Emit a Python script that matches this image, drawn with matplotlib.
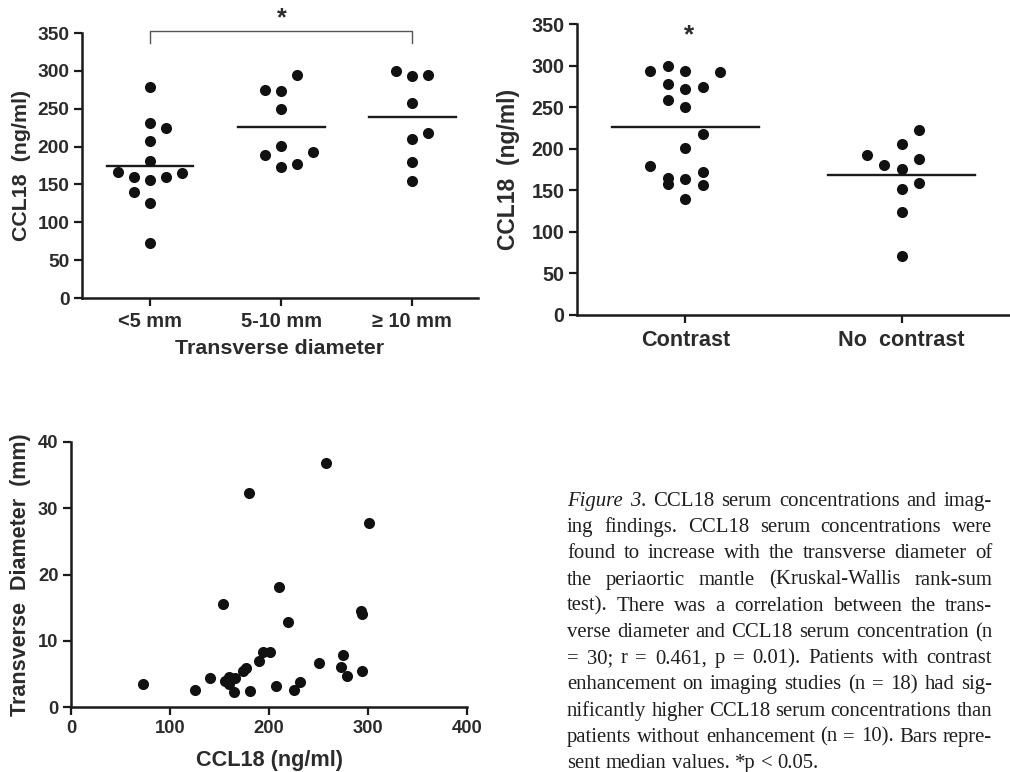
import matplotlib
matplotlib.use("Agg")
import matplotlib.pyplot as plt

# ---------------- data ----------------
# Panel A: CCL18 by transverse diameter group
diam_groups = ["<5 mm", "5-10 mm", "\u2265 10 mm"]
ccl18_lt5 = [279, 231, 225, 207, 181, 166, 160, 156, 160, 165, 140, 125, 73]
slot_lt5 = [0, 0, 1, 0, 0, -2, -1, 0, 1, 2, -1, 0, 0]
ccl18_5to10 = [294, 275, 273, 250, 201, 189, 193, 173, 177]
slot_5to10 = [1, -1, 0, 0, 0, -1, 2, 0, 1]
ccl18_ge10 = [300, 293, 294, 257, 218, 210, 179, 154]
slot_ge10 = [-1, 0, 1, 0, 1, 0, 0, 0]
median_diam = [175, 226, 239]

# Panel B: CCL18 by contrast enhancement
contrast_groups = ["Contrast", "No  contrast"]
ccl18_contrast = [293, 300, 294, 292, 278, 272, 274, 258, 250, 218, 201,
                  179, 165, 158, 164, 172, 156, 139]
slot_contrast = [-2, -1, 0, 2, -1, 0, 1, -1, 0, 1, 0, -2, -1, -1, 0, 1, 1, 0]
ccl18_nocontrast = [223, 206, 192, 188, 180, 176, 159, 152, 124, 71]
slot_nocontrast = [1, 0, -2, 1, -1, 0, 1, 0, 0, 0]
median_contrast = [226, 168]

# Panel C: correlation scatter
scatter_ccl18 = [73, 125, 140, 156, 160, 160, 165, 166, 181, 207, 225, 231, 279,
                 294, 275, 273, 250, 201, 190, 194, 174, 177,
                 301, 293, 294, 258, 219, 210, 180, 154]
scatter_diam = [3.4, 2.6, 4.4, 4.0, 3.5, 4.6, 2.2, 4.4, 2.4, 3.2, 2.6, 3.7, 4.7,
                5.5, 7.9, 6.1, 6.6, 8.3, 7.0, 8.3, 5.5, 5.9,
                27.8, 14.5, 14.0, 36.9, 12.8, 18.1, 32.3, 15.6]

caption_lines = [
    "Figure 3. CCL18 serum concentrations and imag-",
    "ing findings. CCL18 serum concentrations were",
    "found to increase with the transverse diameter of",
    "the periaortic mantle (Kruskal-Wallis rank-sum",
    "test). There was a correlation between the trans-",
    "verse diameter and CCL18 serum concentration (n",
    "= 30; r = 0.461, p = 0.01). Patients with contrast",
    "enhancement on imaging studies (n = 18) had sig-",
    "nificantly higher CCL18 serum concentrations than",
    "patients without enhancement (n = 10). Bars repre-",
    "sent median values. *p < 0.05.",
]

# ---------------- style ----------------
W, H = 1010, 772
TXT = "#2b2b2b"
DOT = "#111111"
SANS = ["Liberation Sans", "DejaVu Sans"]
SERIF = ["Liberation Serif", "DejaVu Serif"]

fig = plt.figure(figsize=(W / 100, H / 100), dpi=100)
fig.patch.set_facecolor("white")


def px_axes(l, t, r, b):
    return fig.add_axes([l / W, 1 - b / H, (r - l) / W, (b - t) / H])


def style_axes(ax, tick_fs):
    for s in ("top", "right"):
        ax.spines[s].set_visible(False)
    for s in ("left", "bottom"):
        ax.spines[s].set_linewidth(1.8)
        ax.spines[s].set_color("#1a1a1a")
    ax.tick_params(axis="both", direction="out", length=6, width=1.6,
                   color="#1a1a1a", labelcolor=TXT, labelsize=tick_fs)
    for lab in ax.get_xticklabels() + ax.get_yticklabels():
        lab.set_fontweight("bold")
        lab.set_family(SANS)


def dot_plot(ax, groups, slots, medians, step, half):
    for i, (vals, sl) in enumerate(zip(groups, slots)):
        xs = [i + s * step for s in sl]
        ax.scatter(xs, vals, s=64, color=DOT, zorder=3, linewidths=0)
        ax.plot([i - half, i + half], [medians[i], medians[i]],
                color="#1a1a1a", lw=1.7, zorder=2)


# ---- Panel A ----
axA = px_axes(82, 33, 478, 298)
dot_plot(axA, [ccl18_lt5, ccl18_5to10, ccl18_ge10],
         [slot_lt5, slot_5to10, slot_ge10], median_diam, 0.122, 0.33)
axA.set_xlim(-0.52, 2.5)
axA.set_ylim(0, 350)
axA.set_yticks(range(0, 351, 50))
axA.set_xticks(range(len(diam_groups)))
axA.set_xticklabels(diam_groups)
style_axes(axA, 13.8)
for lab in axA.get_xticklabels():
    lab.set_fontsize(14.4)
axA.tick_params(axis="x", pad=4)
axA.tick_params(axis="y", pad=3)
axA.set_ylabel("CCL18  (ng/ml)", fontsize=15.4, fontweight="bold",
               color=TXT, family=SANS, labelpad=5)
axA.set_xlabel("Transverse diameter", fontsize=15.4, fontweight="bold",
               color=TXT, family=SANS, labelpad=6)
# significance bracket
axA.plot([0, 0, 2, 2], [337, 352, 352, 337], color="#555555", lw=1.0,
         clip_on=False)
axA.text(1, 370, "*", ha="center", va="center", fontsize=18,
         fontweight="bold", color=TXT, family=SANS)

# ---- Panel B ----
axB = px_axes(577, 24, 1010, 315)
dot_plot(axB, [ccl18_contrast, ccl18_nocontrast],
         [slot_contrast, slot_nocontrast], median_contrast, 0.081, 0.34)
axB.set_xlim(-0.5, 1.5)
axB.set_ylim(0, 350)
axB.set_yticks(range(0, 351, 50))
axB.set_xticks(range(len(contrast_groups)))
axB.set_xticklabels(contrast_groups)
style_axes(axB, 14.2)
for lab in axB.get_xticklabels():
    lab.set_fontsize(15.6)
axB.tick_params(axis="x", pad=5)
axB.tick_params(axis="y", pad=3)
axB.set_ylabel("CCL18  (ng/ml)", fontsize=16.5, fontweight="bold",
               color=TXT, family=SANS, labelpad=8)
axB.text(0.02, 336, "*", ha="center", va="center", fontsize=19,
         fontweight="bold", color=TXT, family=SANS)

# ---- Panel C ----
axC = px_axes(71, 442, 467, 707)
axC.scatter(scatter_ccl18, scatter_diam, s=64, color=DOT, zorder=3,
            linewidths=0, clip_on=False)
axC.set_xlim(0, 400)
axC.set_ylim(0, 40)
axC.set_xticks(range(0, 401, 100))
axC.set_yticks(range(0, 41, 10))
style_axes(axC, 13.2)
axC.tick_params(axis="y", pad=3)
axC.set_xlabel("CCL18 (ng/ml)", fontsize=15.6, fontweight="bold",
               color=TXT, family=SANS, labelpad=9)
axC.set_ylabel("Transverse  Diameter  (mm)", fontsize=15.5, fontweight="bold",
               color=TXT, family=SANS, labelpad=5)

# ---- Caption (justified) ----
renderer = fig.canvas.get_renderer()
CAP_LEFT, CAP_RIGHT = 567, 992
BASE0, LSTEP = 506, 26.2


def text_w(s, fs, style="normal"):
    t = fig.text(0, 0, s, fontsize=fs, family=SERIF, style=style)
    w = t.get_window_extent(renderer=renderer).width
    t.remove()
    return w


cap_fs = 10 * 252 / text_w(caption_lines[-1], 10)


def segs_for(word, first_line):
    if first_line and word == "Figure":
        return [(word, "italic")]
    if first_line and word == "3.":
        return [("3", "italic"), (".", "normal")]
    return [(word, "normal")]


for li, line in enumerate(caption_lines):
    words = line.split(" ")
    wsegs = [segs_for(w, li == 0) for w in words]
    widths = [sum(text_w(s, cap_fs, st) for s, st in ws) for ws in wsegs]
    last = li == len(caption_lines) - 1
    if last or len(words) == 1:
        gap = text_w("a b", cap_fs) - text_w("ab", cap_fs)
    else:
        gap = (CAP_RIGHT - CAP_LEFT - sum(widths)) / (len(words) - 1)
    x = CAP_LEFT
    y = BASE0 + li * LSTEP
    for ws in wsegs:
        for s, st in ws:
            fig.text(x / W, 1 - y / H, s, fontsize=cap_fs, family=SERIF,
                     style=st, color="#1e1e1e", ha="left", va="baseline")
            x += text_w(s, cap_fs, st)
        x += gap

fig.savefig("out.png", dpi=100, facecolor="white")
